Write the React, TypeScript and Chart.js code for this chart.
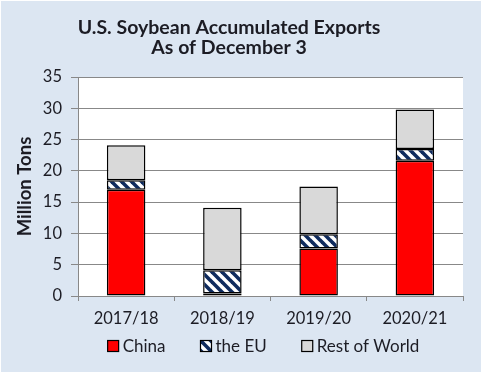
import React, { useEffect, useRef } from 'react';
import { Chart, registerables } from 'chart.js';

Chart.register(...registerables);

const categories = ['2017/18', '2018/19', '2019/20', '2020/21'];
const chinaValues = [17.0, 0.4, 7.6, 21.6];
const euValues = [1.5, 3.7, 2.25, 1.9];
const restValues = [5.6, 10.0, 7.65, 6.3];
const seriesNames = ['China', 'the EU', 'Rest of World'];
const titleLines = ['U.S. Soybean Accumulated Exports', 'As of December 3'];
const yAxisTitle = 'Million Tons';
const yMin = 0;
const yMax = 35;
const yStep = 5;

const FONT = 'Lato, "Open Sans", sans-serif';
const TEXT = '#1c1c24';
const PANEL = '#dce6f2';
const GRID = '#888888';
const NAVY = '#0f2b5e';

function makeHatch(): CanvasPattern | string {
  const c = document.createElement('canvas');
  const s = 10;
  c.width = s;
  c.height = s;
  const g = c.getContext('2d');
  if (!g) return NAVY;
  g.fillStyle = '#ffffff';
  g.fillRect(0, 0, s, s);
  g.strokeStyle = NAVY;
  g.lineWidth = 3.6;
  g.lineCap = 'square';
  const segs = [
    [-s, -s, 2 * s, 2 * s],
    [-s, 0, s, 2 * s],
    [0, -s, 2 * s, s],
  ];
  for (const [a, b, cc, d] of segs) {
    g.beginPath();
    g.moveTo(a, b);
    g.lineTo(cc, d);
    g.stroke();
  }
  const p = g.createPattern(c, 'repeat');
  return p || NAVY;
}

export default function App() {
  const ref = useRef<HTMLCanvasElement | null>(null);

  useEffect(() => {
    const canvas = ref.current;
    if (!canvas) return;
    const hatch = makeHatch();

    const bgPlugin = {
      id: 'panelBg',
      beforeDraw(chart: any) {
        const { ctx, width, height, chartArea } = chart;
        ctx.save();
        ctx.fillStyle = PANEL;
        ctx.fillRect(0, 0, width, height);
        ctx.fillStyle = '#ffffff';
        ctx.fillRect(chartArea.left, chartArea.top, chartArea.right - chartArea.left, chartArea.bottom - chartArea.top);
        ctx.restore();
      },
    };

    const titlePlugin = {
      id: 'customTitle',
      afterDraw(chart: any) {
        const { ctx } = chart;
        ctx.save();
        ctx.font = `bold 19.5px ${FONT}`;
        ctx.fillStyle = TEXT;
        ctx.textAlign = 'center';
        ctx.textBaseline = 'alphabetic';
        const cx = 228;
        ctx.fillText(titleLines[0], cx, 33);
        ctx.fillText(titleLines[1], cx, 53);
        ctx.restore();
      },
    };

    const legendPlugin = {
      id: 'customLegend',
      afterDraw(chart: any) {
        const { ctx, chartArea } = chart;
        const datasets = chart.data.datasets;
        ctx.save();
        ctx.font = `17px ${FONT}`;
        const box = 11;
        const gapText = 4;
        const gapItem = 35;
        const widths = datasets.map((d: any) => box + gapText + ctx.measureText(d.label).width);
        const total = widths.reduce((a: number, b: number) => a + b, 0) + gapItem * (datasets.length - 1);
        let x = (chartArea.left + chartArea.right) / 2 - 7 - total / 2;
        const cy = 345;
        datasets.forEach((d: any, i: number) => {
          ctx.fillStyle = d.backgroundColor;
          ctx.fillRect(x, cy - box / 2, box, box);
          ctx.strokeStyle = '#000';
          ctx.lineWidth = 1.2;
          ctx.strokeRect(x, cy - box / 2, box, box);
          ctx.fillStyle = TEXT;
          ctx.textAlign = 'left';
          ctx.textBaseline = 'middle';
          ctx.fillText(d.label, x + box + gapText, cy + 1);
          x += widths[i] + gapItem;
        });
        ctx.restore();
      },
    };

    const common = {
      borderColor: '#000000',
      borderWidth: 1.5,
      borderSkipped: false as const,
      categoryPercentage: 0.8,
      barPercentage: 0.5,
    };

    const chart = new Chart(canvas, {
      type: 'bar',
      data: {
        labels: categories,
        datasets: [
          { label: seriesNames[0], data: chinaValues, backgroundColor: '#ff0000', ...common },
          { label: seriesNames[1], data: euValues, backgroundColor: hatch as any, ...common },
          { label: seriesNames[2], data: restValues, backgroundColor: '#d9d9d9', ...common },
        ],
      },
      options: {
        animation: false,
        responsive: false,
        layout: { padding: { top: 76, right: 18, left: 0, bottom: 46 } },
        plugins: {
          legend: { display: false },
          title: { display: false },
          tooltip: { enabled: false },
        },
        scales: {
          x: {
            stacked: true,
            afterFit(scale: any) {
              scale.height = 30;
            },
            grid: {
              offset: true,
              drawOnChartArea: false,
              drawTicks: true,
              tickLength: 5,
              color: GRID,
            },
            border: { color: GRID, width: 1 },
            ticks: {
              color: TEXT,
              padding: 8,
              font: { family: FONT, size: 16.5 },
              maxRotation: 0,
            },
          },
          y: {
            stacked: true,
            min: yMin,
            max: yMax,
            afterFit(scale: any) {
              scale.width = 77;
            },
            grid: { color: GRID, lineWidth: 1, tickLength: 7 },
            border: { color: GRID, width: 1 },
            ticks: {
              stepSize: yStep,
              color: TEXT,
              padding: 9,
              font: { family: FONT, size: 16.5 },
            },
            title: {
              display: true,
              text: yAxisTitle,
              color: TEXT,
              font: { family: FONT, size: 18.5, weight: 'bold' },
              padding: { top: 13, bottom: 0 },
            },
          },
        },
      },
      plugins: [bgPlugin, titlePlugin, legendPlugin],
    });

    return () => chart.destroy();
  }, []);

  return (
    <div style={{ position: 'absolute', left: 1, top: 1, width: 480, height: 371 }}>
      <canvas ref={ref} width={480} height={371} style={{ display: 'block', width: 480, height: 371 }} />
    </div>
  );
}
